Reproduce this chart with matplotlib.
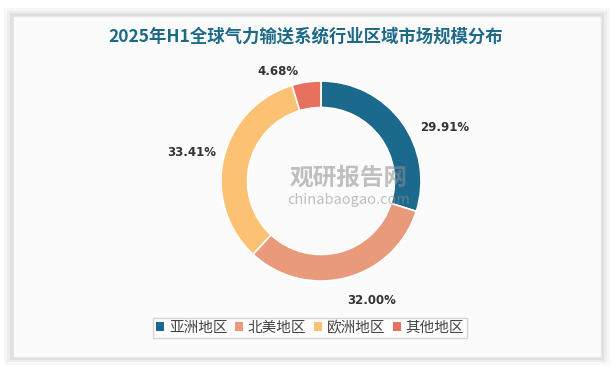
import matplotlib
matplotlib.use("Agg")
import matplotlib.pyplot as plt
from matplotlib.patches import FancyBboxPatch, Rectangle

plt.rcParams['font.family'] = ['Noto Sans CJK SC', 'DejaVu Sans']

# data
regions = ['亚洲地区', '北美地区', '欧洲地区', '其他地区']
shares = [29.91, 32.00, 33.41, 4.68]
colors = ['#1b6a8d', '#e89a7a', '#fdc173', '#e8705f']
title = '2025年H1全球气力输送系统行业区域市场规模分布'

W, H = 612, 367
fig = plt.figure(figsize=(W / 100, H / 100), dpi=100)
fig.patch.set_facecolor('white')

# card with soft shadow
cx0, cy0, cw, ch = 13 / W, 10 / H, 588 / W, 341 / H
for i, a in enumerate([0.03, 0.04, 0.05]):
    d = 0.005 * (3 - i)
    fig.patches.append(FancyBboxPatch((cx0 - d, cy0 - d * 1.4), cw + 2 * d, ch + 2 * d * 1.4,
                                      boxstyle='square,pad=0', transform=fig.transFigure,
                                      facecolor='black', alpha=a, edgecolor='none', zorder=0))
fig.patches.append(Rectangle((cx0, cy0), cw, ch, transform=fig.transFigure,
                             facecolor='#fbfbfb', edgecolor='#e6e6e6', lw=0.8, zorder=1))

fig.text(0.5, 1 - 37 / H, title, ha='center', va='center', fontsize=12.5, fontweight='bold',
         color='#1d6a88', zorder=5)

# donut: centre (321, 181) px, outer radius 100 px
ax = fig.add_axes([(321 - 150) / W, (H - 181 - 150) / H, 300 / W, 300 / H])
ax.set_zorder(3)
wedges, _ = ax.pie(shares, colors=colors, startangle=90, counterclock=False,
                   radius=1.0, wedgeprops=dict(width=0.265, edgecolor='white', linewidth=1.2))
ax.set_xlim(-1.5, 1.5)
ax.set_ylim(-1.5, 1.5)
ax.axis('off')

# data labels
label_pos = [(1.24, 0.53), (0.51, -1.2), (-1.29, 0.28), (-0.43, 1.09)]
for (x, y), v in zip(label_pos, shares):
    ax.text(x, y, f'{v:.2f}%', ha='center', va='center', fontsize=8.5,
            fontweight='bold', color='#333333', family='DejaVu Sans')

# watermark
fig.text(290 / W, 1 - 178 / H, '观研报告网', ha='left', va='center', fontsize=17,
         fontweight='bold', color='#8f8f8f', alpha=0.55, zorder=6)
fig.text(287 / W, 1 - 200 / H, 'chinabaogao.com', ha='left', va='center', fontsize=10.5,
         color='#8f8f8f', alpha=0.55, zorder=6)

leg = fig.legend(wedges, regions, loc='center', bbox_to_anchor=(310 / W, 1 - 328 / H), ncol=4,
                 frameon=True, fontsize=10.5, handlelength=0.55, handleheight=0.55,
                 handletextpad=0.35, columnspacing=0.5, borderpad=0.2, fancybox=False,
                 labelcolor='#444444')
leg.get_frame().set_edgecolor('#cccccc')
leg.get_frame().set_facecolor('white')
for h in leg.legend_handles:
    h.set_edgecolor('none')

fig.savefig('out.png', dpi=100)
